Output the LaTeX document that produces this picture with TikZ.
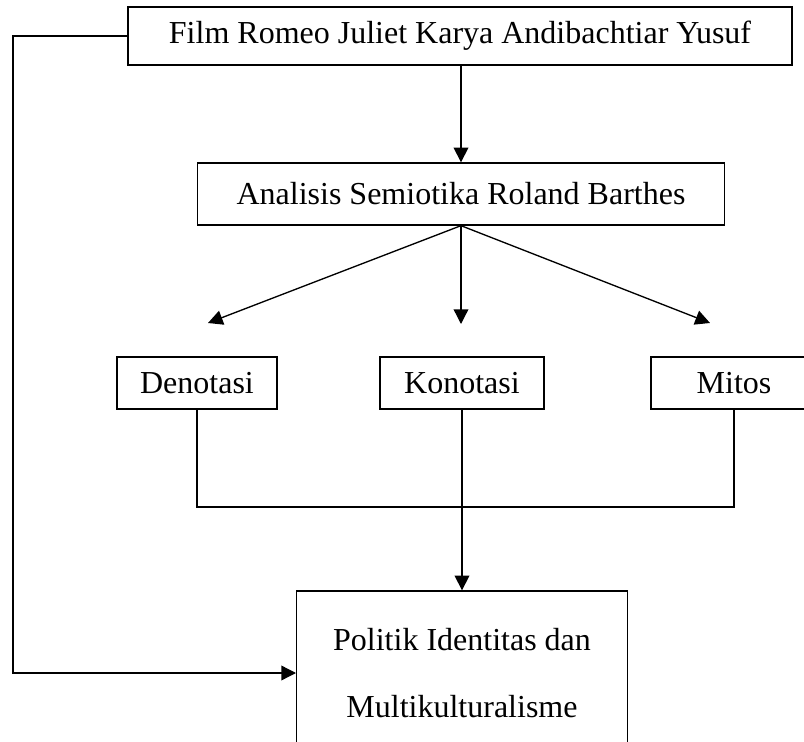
\documentclass[tikz,border=0pt]{standalone}
\usepackage{fontspec}
\setmainfont{Liberation Serif}
\usetikzlibrary{arrows.meta, positioning}

\begin{document}
\begin{tikzpicture}[x=0.75pt, y=-0.75pt, line width=1pt,
    box/.style={draw, inner sep=0pt, font=\fontsize{24}{50}\selectfont},
    small/.style={box, minimum height=39pt},
    arr/.style={-{Triangle[length=11pt,width=11pt]}}]
    \clip (0,0) rectangle (804,742);
    \node[box, minimum width=498pt, minimum height=43.5pt] (film) at (460,36) {Film Romeo Juliet Karya Andibachtiar Yusuf};
    \node[box, minimum width=395pt, minimum height=46.5pt] (analisis) at (461,194) {Analisis Semiotika Roland Barthes};
    \node[small, minimum width=120pt] (denotasi) at (197,383) {Denotasi};
    \node[small, minimum width=123pt] (konotasi) at (462,383) {Konotasi};
    \node[small, minimum width=124.5pt] (mitos) at (734,383) {Mitos};
    \node[box, minimum width=248pt, minimum height=123pt, align=center] (politik) at (462,673) {Politik Identitas dan\\Multikulturalisme};
    \coordinate (tipd) at (208,323);
    \coordinate (tipk) at (461,324);
    \coordinate (tipm) at (710,323);
    \coordinate (join) at (462,507);
    \coordinate (corner) at (13,673);
    \draw[arr] (film.south -| analisis.north) -- (analisis.north);
    \draw[arr] (analisis.south) -- (tipd);
    \draw[arr] (analisis.south) -- (tipk);
    \draw[arr] (analisis.south) -- (tipm);
    \draw (denotasi.south) |- (join) -| (mitos.south);
    \draw[arr] (konotasi.south) -- (politik.north);
    \draw[arr] (film.west) -| (corner) -- (politik.west);
\end{tikzpicture}
\end{document}
